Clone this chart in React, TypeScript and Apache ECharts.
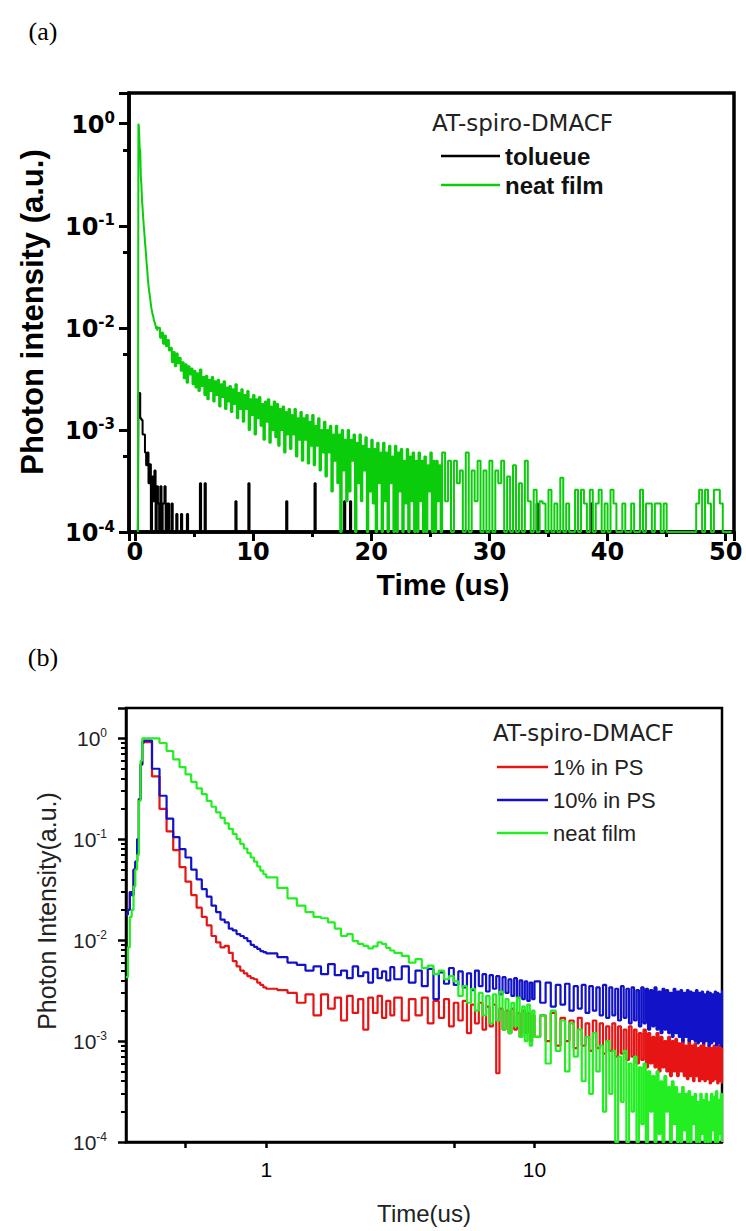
import React, { useEffect, useRef } from 'react';
import * as echarts from 'echarts';

// ---------------- Panel (a) data ----------------
// toluene: [time (us), normalized intensity] histogram steps
const tolueneA: [number, number][] = [
  [0.25, 1e-4], [0.3, 2.3e-3], [0.45, 1.3e-3], [0.55, 1.25e-3], [0.65, 9e-4], [0.75, 9e-4], [0.85, 6e-4],
  [0.95, 4.5e-4], [1.05, 6e-4], [1.15, 3e-4], [1.25, 4.6e-4], [1.35, 1e-4], [1.45, 3.5e-4], [1.55, 2e-4],
  [1.65, 4e-4], [1.75, 1e-4], [1.85, 2.8e-4], [1.95, 1.9e-4], [2.05, 1e-4], [2.15, 2.8e-4], [2.25, 1e-4],
  [2.35, 1.9e-4], [2.5, 2.8e-4], [2.6, 1e-4], [2.75, 1.9e-4], [2.9, 1e-4], [3.1, 1.9e-4], [3.2, 1e-4],
  [3.5, 1.5e-4], [3.6, 1e-4], [3.9, 1.5e-4], [4.0, 1e-4], [4.4, 1.5e-4], [4.5, 1e-4], [5.5, 3e-4], [5.6, 1e-4],
  [5.9, 3e-4], [6.0, 1e-4], [8.5, 2e-4], [8.6, 1e-4], [9.6, 3e-4], [9.7, 1e-4], [12.8, 2e-4], [12.9, 1e-4],
  [15.2, 3e-4], [15.3, 1e-4], [17.7, 2e-4], [17.8, 1e-4], [18.2, 2e-4], [18.3, 1e-4], [34.0, 1.9e-4],
  [34.1, 1e-4], [38.6, 1.9e-4], [38.7, 1e-4], [50.7, 1e-4],
];

// neat film, early part: bins start 0.25 us, 0.05 us wide
const neatAEarlyStart = 0.25;
const neatAEarlyStep = 0.05;
const neatAEarly = [
  1e-4, 1.0, 0.9, 0.58, 0.55, 0.3, 0.25, 0.18, 0.15, 0.12, 0.1, 0.085, 0.07, 0.06, 0.05, 0.042, 0.036,
  0.03, 0.026, 0.023, 0.021, 0.019, 0.017, 0.0155, 0.0145, 0.0135, 0.013, 0.012, 0.0115, 0.011, 0.0105,
  0.0098, 0.0104, 0.0094, 0.0101,
];
// neat film, middle part: bins start 2.0 us, 0.125 us wide (one row per microsecond)
const neatAMidStart = 2.0;
const neatAMidStep = 0.125;
const neatAMid = [
  1.0e-2, 8e-3, 9e-3, 7e-3, 8.4e-3, 6.6e-3, 7.6e-3, 6e-3,
  6.4e-3, 4.6e-3, 5.8e-3, 4.2e-3, 5.6e-3, 4.5e-3, 5.1e-3, 3.8e-3,
  4.6e-3, 3.2e-3, 4.4e-3, 2.9e-3, 4.2e-3, 3.5e-3, 4.0e-3, 2.8e-3,
  3.8e-3, 2.6e-3, 3.6e-3, 2.4e-3, 3.9e-3, 2.7e-3, 3.3e-3, 2.2e-3,
  3.4e-3, 2.0e-3, 3.1e-3, 2.4e-3, 3.3e-3, 1.9e-3, 3.0e-3, 2.2e-3,
  3.1e-3, 1.7e-3, 2.8e-3, 2.1e-3, 3.0e-3, 1.6e-3, 2.6e-3, 1.9e-3,
  2.7e-3, 1.5e-3, 2.5e-3, 1.8e-3, 2.8e-3, 1.3e-3, 2.3e-3, 1.6e-3,
  2.5e-3, 1.2e-3, 2.2e-3, 1.6e-3, 2.4e-3, 1.0e-3, 2.0e-3, 1.4e-3,
  2.2e-3, 9e-4, 2.0e-3, 1.3e-3, 2.1e-3, 1.1e-3, 1.8e-3, 8e-4,
  1.9e-3, 1.2e-3, 2.0e-3, 7.5e-4, 1.7e-3, 1.0e-3, 1.9e-3, 8.5e-4,
  1.8e-3, 7e-4, 1.6e-3, 1.0e-3, 1.7e-3, 6e-4, 1.5e-3, 9e-4,
  1.6e-3, 6.5e-4, 1.4e-3, 9e-4, 1.6e-3, 5.5e-4, 1.3e-3, 8e-4,
  1.5e-3, 5e-4, 1.3e-3, 8e-4, 1.4e-3, 4.7e-4, 1.2e-3, 7e-4,
  1.4e-3, 4.5e-4, 1.1e-3, 7e-4, 1.3e-3, 4e-4, 1.0e-3, 6e-4,
  1.2e-3, 3.5e-4, 1.0e-3, 6e-4, 1.1e-3, 2.5e-4, 9e-4, 5e-4,
  1.1e-3, 3e-4, 9e-4, 1e-4, 1.0e-3, 4e-4, 8e-4, 2e-4,
  1.0e-3, 2.5e-4, 8e-4, 5e-4, 9e-4, 1e-4, 7.5e-4, 3e-4,
  9e-4, 2e-4, 7e-4, 4e-4, 8.5e-4, 1e-4, 6.5e-4, 2.5e-4,
  8e-4, 1.9e-4, 6.5e-4, 1e-4, 7.5e-4, 3e-4, 6e-4, 1e-4,
  7.5e-4, 2e-4, 6e-4, 1e-4, 7e-4, 3e-4, 5.5e-4, 1e-4,
  7e-4, 1e-4, 6e-4, 2.5e-4, 6.5e-4, 1e-4, 5e-4, 1.9e-4,
  6.5e-4, 1e-4, 5.5e-4, 2e-4, 6e-4, 1e-4, 5e-4, 1e-4,
  6e-4, 2e-4, 5e-4, 1e-4, 5.5e-4, 1e-4, 4.5e-4, 2.5e-4,
  6e-4, 1e-4, 5e-4, 1e-4, 5e-4, 2e-4, 4.5e-4, 1e-4,
];
// neat film, late part: bins start 26.0 us, 0.25 us wide
const neatALateStart = 26.0;
const neatALateStep = 0.25;
const neatALate = [
  6e-4, 2e-4, 5e-4, 1e-4, 5e-4, 3e-4, 4e-4, 1e-4,
  6e-4, 1e-4, 4e-4, 2e-4, 5e-4, 1e-4, 4e-4, 1e-4,
  5e-4, 1e-4, 4e-4, 3e-4, 5e-4, 1e-4, 3.5e-4, 1e-4,
  4.5e-4, 1e-4, 3e-4, 1e-4, 5e-4, 2e-4, 1e-4, 2.6e-4,
  1e-4, 2e-4, 1.9e-4, 1e-4, 2.6e-4, 1e-4, 1.9e-4, 1e-4,
  3.4e-4, 1e-4, 1.9e-4, 1e-4, 1e-4, 2.6e-4, 1e-4, 2.6e-4,
  1.9e-4, 1e-4, 2.6e-4, 1e-4, 1.9e-4, 2.6e-4, 1e-4, 1.9e-4,
  1e-4, 2.6e-4, 1.9e-4, 1e-4, 1e-4, 1.9e-4, 1e-4, 1e-4,
  1.9e-4, 1e-4, 1e-4, 2.6e-4, 1e-4, 1.9e-4, 1.9e-4, 1e-4,
  1.9e-4, 1.9e-4, 1e-4, 1.9e-4, 1e-4, 1e-4, 1e-4, 1e-4,
  1e-4, 1e-4, 1e-4, 1e-4, 1e-4, 1e-4, 1.9e-4, 2.6e-4,
  1e-4, 2.6e-4, 1.9e-4, 1e-4, 2.6e-4, 2.6e-4, 1.9e-4, 1e-4,
  1e-4, 1e-4, 1e-4,
];

// ---------------- Panel (b) data ----------------
// time bins: [start, step, count]
const timeSegmentsB: [number, number, number][] = [
  [0.3, 0.005, 10],
  [0.35, 0.025, 27],
  [1.1, 0.1, 20],
  [3.2, 0.2, 35],
  [10.5, 0.5, 80],
];

const ps1B = [
  // rise
  0.018, 0.02, 0.03, 0.028, 0.05, 0.06, 0.1, 0.25, 0.55, 0.9,
  // 0.35 - 1.0
  0.92, 0.42, 0.2, 0.12, 0.078, 0.053, 0.038, 0.028, 0.021, 0.017, 0.014, 0.011, 0.0095, 0.0085,
  0.0088, 0.0075, 0.0062, 0.0055, 0.005, 0.0047, 0.0044, 0.0042, 0.0041, 0.0038, 0.0036, 0.0034, 0.0033,
  // 1.1 - 3.0
  3.2e-3, 3.0e-3, 2.4e-3, 2.9e-3, 1.8e-3, 2.9e-3, 2.1e-3, 2.7e-3, 1.6e-3, 2.8e-3,
  1.9e-3, 2.6e-3, 1.3e-3, 2.7e-3, 1.9e-3, 2.8e-3, 1.7e-3, 2.5e-3, 1.8e-3, 2.7e-3,
  // 3.2 - 10
  1.6e-3, 2.6e-3, 1.8e-3, 2.7e-3, 1.5e-3, 2.5e-3, 1.7e-3, 2.6e-3, 1.4e-3, 2.4e-3,
  1.6e-3, 2.5e-3, 1.2e-3, 2.3e-3, 1.5e-3, 2.4e-3, 1.3e-3, 2.2e-3, 1.4e-3, 2.3e-3,
  4.8e-4, 2.1e-3, 1.3e-3, 2.0e-3, 1.2e-3, 2.1e-3, 1.3e-3, 1.9e-3, 1.1e-3, 2.0e-3,
  1.2e-3, 1.9e-3, 1.0e-3, 1.8e-3, 1.1e-3,
  // 10.5 - 50
  1.8e-3, 1.0e-3, 1.9e-3, 9e-4, 1.7e-3, 1.0e-3, 1.6e-3, 8.5e-4, 1.7e-3, 9e-4,
  1.5e-3, 8e-4, 1.6e-3, 8.5e-4, 1.5e-3, 7.5e-4, 1.4e-3, 8e-4, 1.5e-3, 7e-4,
  1.4e-3, 7.5e-4, 1.3e-3, 6.5e-4, 1.4e-3, 7e-4, 1.3e-3, 6e-4, 1.2e-3, 6.5e-4,
  1.3e-3, 5.5e-4, 1.2e-3, 6e-4, 1.1e-3, 5.5e-4, 1.2e-3, 5e-4, 1.1e-3, 5.5e-4,
  1.0e-3, 5e-4, 1.1e-3, 4.5e-4, 1.0e-3, 5e-4, 1.05e-3, 4.5e-4, 9.5e-4, 5e-4,
  1.0e-3, 4.5e-4, 9e-4, 4.2e-4, 1.0e-3, 4.5e-4, 9e-4, 4e-4, 9.5e-4, 4.5e-4,
  8.5e-4, 4e-4, 9e-4, 4.2e-4, 9.5e-4, 4e-4, 8.5e-4, 4.2e-4, 9e-4, 3.8e-4,
  8.5e-4, 4e-4, 9e-4, 4.2e-4, 8.5e-4, 3.8e-4, 9e-4, 4e-4, 8.5e-4, 3.8e-4,
];

const ps10B = [
  // rise
  0.018, 0.02, 0.03, 0.028, 0.05, 0.06, 0.1, 0.25, 0.55, 0.92,
  // 0.35 - 1.0
  0.95, 0.5, 0.27, 0.16, 0.105, 0.08, 0.066, 0.05, 0.04, 0.032, 0.027, 0.022, 0.019, 0.016,
  0.015, 0.013, 0.0125, 0.0115, 0.011, 0.0105, 0.0098, 0.009, 0.0086, 0.0082, 0.0078, 0.0076, 0.0074,
  // 1.1 - 3.0
  6.8e-3, 6.0e-3, 5.7e-3, 5.0e-3, 5.5e-3, 4.6e-3, 5.8e-3, 4.5e-3, 5.0e-3, 4.2e-3,
  5.5e-3, 4.4e-3, 4.8e-3, 3.8e-3, 5.2e-3, 4.2e-3, 4.9e-3, 4.0e-3, 5.4e-3, 4.1e-3,
  // 3.2 - 10
  5.5e-3, 3.8e-3, 5.0e-3, 3.5e-3, 5.2e-3, 2.6e-3, 4.8e-3, 3.7e-3, 5.3e-3, 3.6e-3,
  4.9e-3, 3.4e-3, 4.7e-3, 3.2e-3, 5.0e-3, 3.5e-3, 4.6e-3, 3.1e-3, 4.5e-3, 3.3e-3,
  4.4e-3, 2.9e-3, 4.3e-3, 3.0e-3, 4.1e-3, 2.8e-3, 4.2e-3, 2.7e-3, 4.0e-3, 2.6e-3,
  3.9e-3, 2.5e-3, 3.8e-3, 2.6e-3, 3.9e-3,
  // 10.5 - 50
  2.4e-3, 3.8e-3, 2.2e-3, 3.6e-3, 2.3e-3, 3.7e-3, 2.0e-3, 3.5e-3, 2.1e-3, 3.6e-3,
  1.9e-3, 3.5e-3, 2.0e-3, 3.4e-3, 1.8e-3, 3.6e-3, 1.7e-3, 3.4e-3, 1.8e-3, 3.3e-3,
  1.6e-3, 3.5e-3, 1.7e-3, 3.3e-3, 1.5e-3, 3.4e-3, 1.6e-3, 3.2e-3, 1.4e-3, 3.4e-3,
  1.5e-3, 3.3e-3, 1.3e-3, 3.2e-3, 1.4e-3, 3.4e-3, 1.3e-3, 3.1e-3, 1.2e-3, 3.3e-3,
  1.3e-3, 3.2e-3, 1.2e-3, 3.0e-3, 1.1e-3, 3.3e-3, 1.2e-3, 3.1e-3, 1.1e-3, 3.2e-3,
  1.0e-3, 3.0e-3, 1.1e-3, 3.2e-3, 1.0e-3, 3.1e-3, 1.05e-3, 3.0e-3, 1.0e-3, 3.2e-3,
  9.5e-4, 3.0e-3, 1.0e-3, 3.1e-3, 9.5e-4, 2.9e-3, 1.0e-3, 3.1e-3, 9e-4, 3.0e-3,
  9.5e-4, 2.9e-3, 1.0e-3, 3.1e-3, 9e-4, 3.0e-3, 9.5e-4, 2.9e-3, 9e-4, 3.2e-3,
];

const neatB = [
  // rise
  4.3e-3, 8.5e-3, 0.017, 0.02, 0.034, 0.05, 0.07, 0.24, 0.6, 1.0,
  // 0.35 - 1.0
  1.0, 1.0, 0.9, 0.75, 0.62, 0.52, 0.44, 0.37, 0.32, 0.28, 0.24, 0.21, 0.185, 0.163,
  0.144, 0.127, 0.113, 0.101, 0.09, 0.081, 0.073, 0.066, 0.06, 0.054, 0.049, 0.045, 0.042,
  // 1.1 - 3.0
  0.033, 0.026, 0.022, 0.019, 0.017, 0.0165, 0.015, 0.013, 0.011, 0.0115,
  0.0098, 0.0092, 0.0088, 0.0083, 0.0087, 0.0095, 0.0092, 0.0084, 0.0079, 0.0075,
  // 3.2 - 10
  7e-3, 6e-3, 6.5e-3, 5.3e-3, 5.6e-3, 4.6e-3, 5e-3, 4.1e-3, 4.4e-3, 3.9e-3,
  2.8e-3, 3.5e-3, 2.4e-3, 3.3e-3, 2e-3, 3.0e-3, 1.8e-3, 2.8e-3, 1.5e-3, 2.9e-3,
  1.6e-3, 3.1e-3, 1.3e-3, 2.6e-3, 1.2e-3, 2.4e-3, 1.4e-3, 2.7e-3, 1.1e-3, 2.2e-3,
  1.0e-3, 2.3e-3, 9e-4, 2.0e-3, 1.1e-3,
  // 10.5 - 50
  1.8e-3, 6e-4, 2e-3, 8e-4, 1.6e-3, 5e-4, 1.5e-3, 7e-4, 1.3e-3, 4e-4,
  1.1e-3, 3e-4, 1.2e-3, 5e-4, 9e-4, 2e-4, 1e-3, 3e-4, 8e-4, 1e-4,
  7e-4, 2.5e-4, 8e-4, 1e-4, 6e-4, 2e-4, 7e-4, 1e-4, 5.5e-4, 1.5e-4,
  6e-4, 1e-4, 5e-4, 2e-4, 4.5e-4, 1e-4, 5e-4, 1.2e-4, 4e-4, 1e-4,
  4.5e-4, 2e-4, 3.5e-4, 1e-4, 4e-4, 1.5e-4, 3.5e-4, 1e-4, 3e-4, 1e-4,
  3.5e-4, 1.3e-4, 3e-4, 1e-4, 3.2e-4, 1e-4, 2.8e-4, 1.5e-4, 3e-4, 1e-4,
  2.5e-4, 1e-4, 3e-4, 1.2e-4, 2.6e-4, 1e-4, 3e-4, 1e-4, 2.5e-4, 1e-4,
  3e-4, 1.3e-4, 2.8e-4, 1e-4, 3.2e-4, 1e-4, 2.6e-4, 1.2e-4, 3e-4, 1e-4,
];

const legendTitle = 'AT-spiro-DMACF';
const xLabelValuesB = [1, 10];
const xTickValuesB = [0.5, 1, 5, 10];

// ---------------- helpers ----------------
const binTimes = (start: number, step: number, n: number) =>
  Array.from({ length: n }, (_, i) => +(start + step * i).toFixed(4));

const timesB: number[] = timeSegmentsB.flatMap(([s, st, n]) => binTimes(s, st, n));
const pairs = (ts: number[], vs: number[]) =>
  vs.slice(0, ts.length).map((v, i) => [ts[i], v]);

const neatAData = [
  ...pairs(binTimes(neatAEarlyStart, neatAEarlyStep, neatAEarly.length), neatAEarly),
  ...pairs(binTimes(neatAMidStart, neatAMidStep, neatAMid.length), neatAMid),
  ...pairs(binTimes(neatALateStart, neatALateStep, neatALate.length), neatALate),
];

const powLabel = (v: number) => {
  const l = Math.log10(v);
  const e = Math.round(l);
  if (Math.abs(l - e) > 1e-6) return '';
  return `{b|10}{s|${e}}`;
};

const ARIAL = 'Liberation Sans, Arial, sans-serif';
const DEJAVU = 'DejaVu Sans, sans-serif';

const option: any = {
  animation: false,
  backgroundColor: '#fff',
  grid: [
    { left: 129, top: 93, width: 605, height: 439, show: true, borderColor: '#000', borderWidth: 3.5, containLabel: false },
    { left: 126, top: 708, width: 596, height: 434, show: true, borderColor: '#000', borderWidth: 2.5, containLabel: false },
  ],
  xAxis: [
    {
      type: 'value', gridIndex: 0, min: -0.5, max: 50.7, splitNumber: 5,
      axisLine: { onZero: false, lineStyle: { color: '#000', width: 3.5 } },
      axisTick: { length: 9, lineStyle: { color: '#000', width: 3 } },
      minorTick: { show: true, splitNumber: 2, length: 5, lineStyle: { color: '#000', width: 3 } },
      splitLine: { show: false },
      axisLabel: {
        margin: 8, color: '#000', fontSize: 24, fontWeight: 'bold', fontFamily: DEJAVU,
        formatter: (v: number) => (Math.abs(v - Math.round(v / 10) * 10) < 1e-6 ? String(Math.round(v)) : ''),
      },
    },
    {
      type: 'log', gridIndex: 1, logBase: 10, min: 0.3, max: 50,
      axisLine: { onZero: false, lineStyle: { color: '#000', width: 2.5 } },
      axisTick: { length: 6, customValues: xTickValuesB, lineStyle: { color: '#000', width: 2.5 } },
      splitLine: { show: false },
      axisLabel: {
        margin: 17, color: '#000', fontSize: 21, fontFamily: ARIAL,
        customValues: xLabelValuesB,
        formatter: (v: number) => String(Math.round(v)),
      },
    },
  ],
  yAxis: [
    {
      type: 'log', gridIndex: 0, logBase: 10, min: 1e-4, max: 2,
      axisLine: { onZero: false, lineStyle: { color: '#000', width: 3.5 } },
      axisTick: { length: 10, lineStyle: { color: '#000', width: 3 } },
      minorTick: { show: true, splitNumber: 2, length: 6, lineStyle: { color: '#000', width: 3 } },
      splitLine: { show: false },
      axisLabel: {
        margin: 14, formatter: powLabel,
        rich: {
          b: { fontSize: 24, fontWeight: 'bold', fontFamily: DEJAVU, color: '#000', lineHeight: 26, verticalAlign: 'bottom' },
          s: { fontSize: 15, fontWeight: 'bold', fontFamily: DEJAVU, color: '#000', lineHeight: 14, verticalAlign: 'top' },
        },
      },
    },
    {
      type: 'log', gridIndex: 1, logBase: 10, min: 1e-4, max: 2,
      axisLine: { onZero: false, lineStyle: { color: '#000', width: 2.5 } },
      axisTick: { length: 8, lineStyle: { color: '#000', width: 2.5 } },
      minorTick: { show: true, splitNumber: 9, length: 5, lineStyle: { color: '#000', width: 2 } },
      splitLine: { show: false },
      axisLabel: {
        margin: 19, formatter: powLabel,
        rich: {
          b: { fontSize: 21, fontFamily: ARIAL, color: '#222', lineHeight: 22, verticalAlign: 'bottom' },
          s: { fontSize: 12, fontFamily: ARIAL, color: '#222', lineHeight: 12, verticalAlign: 'top' },
        },
      },
    },
  ],
  legend: [
    {
      orient: 'vertical', left: 436, top: 139, itemWidth: 59, itemHeight: 2.5, itemGap: 5, icon: 'rect',
      data: ['tolueue', 'neat film'],
      textStyle: { fontSize: 24, fontWeight: 'bold', fontFamily: ARIAL, color: '#111' },
      selectedMode: false,
    },
    {
      orient: 'vertical', left: 492, top: 751, itemWidth: 51, itemHeight: 2.5, itemGap: 11, icon: 'rect',
      data: ['1% in PS', '10% in PS', 'neat film (b)'],
      formatter: (n: string) => n.replace(' (b)', ''),
      textStyle: { fontSize: 22, fontFamily: ARIAL, color: '#222' },
      selectedMode: false,
    },
  ],
  graphic: [
    { type: 'text', x: 43, y: 31, style: { text: '(a)', fontSize: 26, fontFamily: 'Liberation Serif, serif', fill: '#000', align: 'center', verticalAlign: 'middle' } },
    { type: 'text', x: 43, y: 657, style: { text: '(b)', fontSize: 26, fontFamily: 'Liberation Serif, serif', fill: '#000', align: 'center', verticalAlign: 'middle' } },
    { type: 'text', x: 432, y: 123, style: { text: legendTitle, fontSize: 23, fontFamily: DEJAVU, fill: '#222', align: 'left', verticalAlign: 'middle' } },
    { type: 'text', x: 493, y: 733, style: { text: legendTitle, fontSize: 23, fontFamily: DEJAVU, fill: '#222', align: 'left', verticalAlign: 'middle' } },
    { type: 'text', x: 32, y: 312, rotation: Math.PI / 2, style: { text: 'Photon intensity (a.u.)', fontSize: 31, fontWeight: 'bold', fontFamily: ARIAL, fill: '#000', align: 'center', verticalAlign: 'middle' } },
    { type: 'text', x: 443, y: 584, style: { text: 'Time (us)', fontSize: 30, fontWeight: 'bold', fontFamily: ARIAL, fill: '#000', align: 'center', verticalAlign: 'middle' } },
    { type: 'text', x: 47, y: 911, rotation: Math.PI / 2, style: { text: 'Photon Intensity(a.u.)', fontSize: 25, fontFamily: ARIAL, fill: '#222', align: 'center', verticalAlign: 'middle' } },
    { type: 'text', x: 424, y: 1213, style: { text: 'Time(us)', fontSize: 24, fontFamily: ARIAL, fill: '#222', align: 'center', verticalAlign: 'middle' } },
  ],
  series: [
    {
      name: 'tolueue', type: 'line', xAxisIndex: 0, yAxisIndex: 0, data: tolueneA, step: 'end',
      symbol: 'none', clip: true, lineStyle: { color: '#000', width: 2 }, itemStyle: { color: '#000' },
    },
    {
      name: 'neat film', type: 'line', xAxisIndex: 0, yAxisIndex: 0, data: neatAData, step: 'end',
      symbol: 'none', clip: true, lineStyle: { color: '#0acc0a', width: 2 }, itemStyle: { color: '#0acc0a' },
    },
    {
      name: '1% in PS', type: 'line', xAxisIndex: 1, yAxisIndex: 1, data: pairs(timesB, ps1B), step: 'end',
      symbol: 'none', clip: true, lineStyle: { color: '#e61414', width: 2.2 }, itemStyle: { color: '#e61414' },
    },
    {
      name: '10% in PS', type: 'line', xAxisIndex: 1, yAxisIndex: 1, data: pairs(timesB, ps10B), step: 'end',
      symbol: 'none', clip: true, lineStyle: { color: '#1212c8', width: 2.2 }, itemStyle: { color: '#1212c8' },
    },
    {
      name: 'neat film (b)', type: 'line', xAxisIndex: 1, yAxisIndex: 1, data: pairs(timesB, neatB), step: 'end',
      symbol: 'none', clip: true, lineStyle: { color: '#22ee22', width: 2.2 }, itemStyle: { color: '#22ee22' },
    },
  ],
};

export default function App() {
  const ref = useRef<HTMLDivElement>(null);
  useEffect(() => {
    if (!ref.current) return;
    const chart = echarts.init(ref.current, null, { renderer: 'svg' });
    chart.setOption(option);
    return () => chart.dispose();
  }, []);
  return (
    <div
      ref={ref}
      style={{ position: 'fixed', left: 0, top: 0, width: 746, height: 1231, background: '#fff' }}
    />
  );
}
